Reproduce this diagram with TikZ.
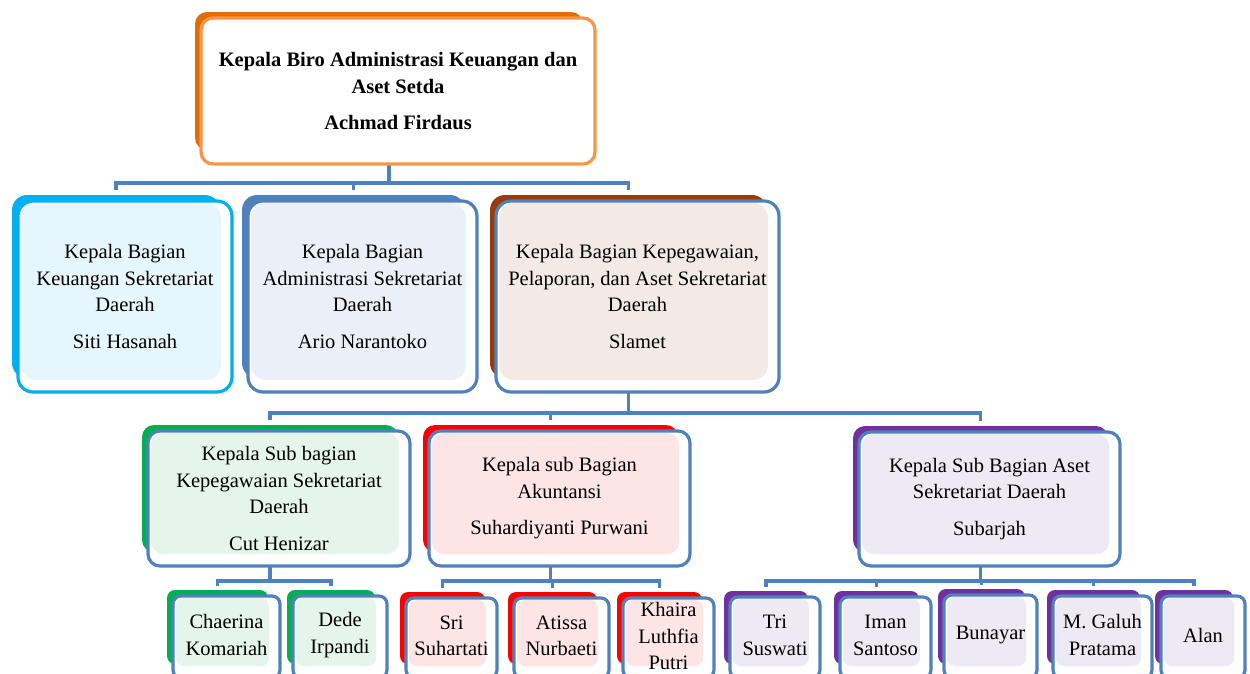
\documentclass[tikz,border=0pt]{standalone}
\usepackage{fontspec}
\setmainfont{Liberation Serif}
\usetikzlibrary{calc}
\definecolor{conn}{HTML}{4F81BD}
\definecolor{orgback}{HTML}{E36C09}
\definecolor{orgline}{HTML}{F79646}
\definecolor{cyanback}{HTML}{00B0F0}
\definecolor{cyantint}{HTML}{E6F6FD}
\definecolor{bluetint}{HTML}{EBF0F8}
\definecolor{brownback}{HTML}{973C0B}
\definecolor{browntint}{HTML}{F3EAE6}
\definecolor{greenback}{HTML}{00B050}
\definecolor{greentint}{HTML}{E5F5EC}
\definecolor{redback}{HTML}{FF0000}
\definecolor{redtint}{HTML}{FDE5E5}
\definecolor{purpleback}{HTML}{7030A0}
\definecolor{purpletint}{HTML}{EEEAF4}
\tikzset{
  unit/.style={rectangle, inner sep=0pt, outer sep=0pt},
  connline/.style={draw=conn, line width=3.5pt},
  txt/.style={align=center, font=\fontsize{20.5}{26.5}\selectfont, inner sep=0pt, text=black},
}
% #1 name, #2 back colour, #3 outline colour, #4 tint, #5 radius, #6 text options, #7 text
\newcommand\drawunit[7]{%
  \fill[#2, rounded corners=#5] (#1.north west) rectangle (#1.south east);
  \path (#1.north west) ++(6,6) coordinate (#1-fnw);
  \path (#1.south east) ++(12,14) coordinate (#1-fse);
  \draw[#3, line width=3.2pt, fill=white, rounded corners=#5] (#1-fnw) rectangle (#1-fse);
  \fill[#4, rounded corners=#5] ($(#1-fnw)+(3,2)$) rectangle ($(#1-fse)+(-11,-12)$);
  \node[txt, #6] (#1-t) at ($(#1-fnw)!0.5!(#1-fse)$) {#7};
}
\begin{document}
\begin{tikzpicture}[x=1pt, y=-1pt]
\useasboundingbox (0,0) rectangle (1250,673);
\clip (0,0) rectangle (1250,673);
\fill[white] (0,0) rectangle (1250,673);
% anchor nodes (back shapes)
\node[unit, minimum width=388pt, minimum height=138pt] (top) at (389,81) {};
\node[unit, minimum width=208pt, minimum height=183pt] (A) at (116,286.5) {};
\node[unit, minimum width=223pt, minimum height=183pt] (B) at (353.5,286.5) {};
\node[unit, minimum width=277pt, minimum height=183pt] (C) at (628.5,286.5) {};
\node[unit, minimum width=256pt, minimum height=127pt] (G) at (270,488.5) {};
\node[unit, minimum width=255pt, minimum height=127pt] (R) at (550.5,488.5) {};
\node[unit, minimum width=255pt, minimum height=126pt] (P) at (980.5,489) {};
\node[unit, minimum width=101pt, minimum height=74pt] (ch) at (217.5,627) {};
\node[unit, minimum width=88pt, minimum height=74pt] (de) at (331,627) {};
\node[unit, minimum width=85pt, minimum height=72pt] (sr) at (442.5,628) {};
\node[unit, minimum width=89pt, minimum height=72pt] (at) at (552.5,628) {};
\node[unit, minimum width=85pt, minimum height=72pt] (kh) at (659.5,628) {};
\node[unit, minimum width=84pt, minimum height=73pt] (tr) at (766,627.5) {};
\node[unit, minimum width=85pt, minimum height=73pt] (im) at (876.5,627.5) {};
\node[unit, minimum width=87pt, minimum height=75pt] (bu) at (981.5,626.5) {};
\node[unit, minimum width=93pt, minimum height=74pt] (ga) at (1093.5,627) {};
\node[unit, minimum width=78pt, minimum height=74pt] (al) at (1194,627) {};
% bus levels
\coordinate (b1) at (0,183);
\coordinate (b2) at (0,413);
\coordinate (b3) at (0,581);
% connectors
\foreach \c in {A,B,C}
  \draw[connline] (top.center) |- (\c.north |- b1) -- ([yshift=5pt]\c.north);
\foreach \c in {G,R,P}
  \draw[connline] (C.center) |- (\c.north |- b2) -- ([yshift=5pt]\c.north);
\foreach \c in {ch,de}
  \draw[connline] (G.center) |- (\c.north |- b3) -- ([yshift=4pt]\c.north);
\foreach \c in {sr,at,kh}
  \draw[connline] (R.center) |- (\c.north |- b3) -- ([yshift=4pt]\c.north);
\foreach \c in {tr,im,bu,ga,al}
  \draw[connline] (P.center) |- (\c.north |- b3) -- ([yshift=4pt]\c.north);
% boxes
\drawunit{top}{orgback}{orgline}{white}{12pt}{font=\fontsize{20.5}{27}\selectfont\bfseries}{Kepala Biro Administrasi Keuangan dan\\Aset Setda\\[9pt]Achmad Firdaus}
\drawunit{A}{cyanback}{cyanback}{cyantint}{15pt}{}{Kepala Bagian\\Keuangan Sekretariat\\Daerah\\[10pt]Siti Hasanah}
\drawunit{B}{conn}{conn}{bluetint}{15pt}{}{Kepala Bagian\\Administrasi Sekretariat\\Daerah\\[10pt]Ario Narantoko}
\drawunit{C}{brownback}{conn}{browntint}{15pt}{}{Kepala Bagian Kepegawaian,\\Pelaporan, dan Aset Sekretariat\\Daerah\\[10pt]Slamet}
\drawunit{G}{greenback}{conn}{greentint}{12pt}{}{Kepala Sub bagian\\Kepegawaian Sekretariat\\Daerah\\[10pt]Cut Henizar}
\drawunit{R}{redback}{conn}{redtint}{12pt}{}{Kepala sub Bagian\\Akuntansi\\[10pt]Suhardiyanti Purwani}
\drawunit{P}{purpleback}{conn}{purpletint}{12pt}{}{Kepala Sub Bagian Aset\\Sekretariat Daerah\\[10pt]Subarjah}
\drawunit{ch}{greenback}{conn}{greentint}{8pt}{yshift=2pt}{Chaerina\\Komariah}
\drawunit{de}{greenback}{conn}{greentint}{8pt}{yshift=2pt}{Dede\\Irpandi}
\drawunit{sr}{redback}{conn}{redtint}{8pt}{yshift=2pt}{Sri\\Suhartati}
\drawunit{at}{redback}{conn}{redtint}{8pt}{yshift=2pt}{Atissa\\Nurbaeti}
\drawunit{kh}{redback}{conn}{redtint}{8pt}{yshift=2pt}{Khaira\\Luthfia\\Putri}
\drawunit{tr}{purpleback}{conn}{purpletint}{8pt}{yshift=2pt}{Tri\\Suswati}
\drawunit{im}{purpleback}{conn}{purpletint}{8pt}{yshift=2pt}{Iman\\Santoso}
\drawunit{bu}{purpleback}{conn}{purpletint}{8pt}{yshift=2pt}{Bunayar}
\drawunit{ga}{purpleback}{conn}{purpletint}{8pt}{yshift=2pt}{M. Galuh\\Pratama}
\drawunit{al}{purpleback}{conn}{purpletint}{8pt}{yshift=2pt}{Alan}
\end{tikzpicture}
\end{document}
